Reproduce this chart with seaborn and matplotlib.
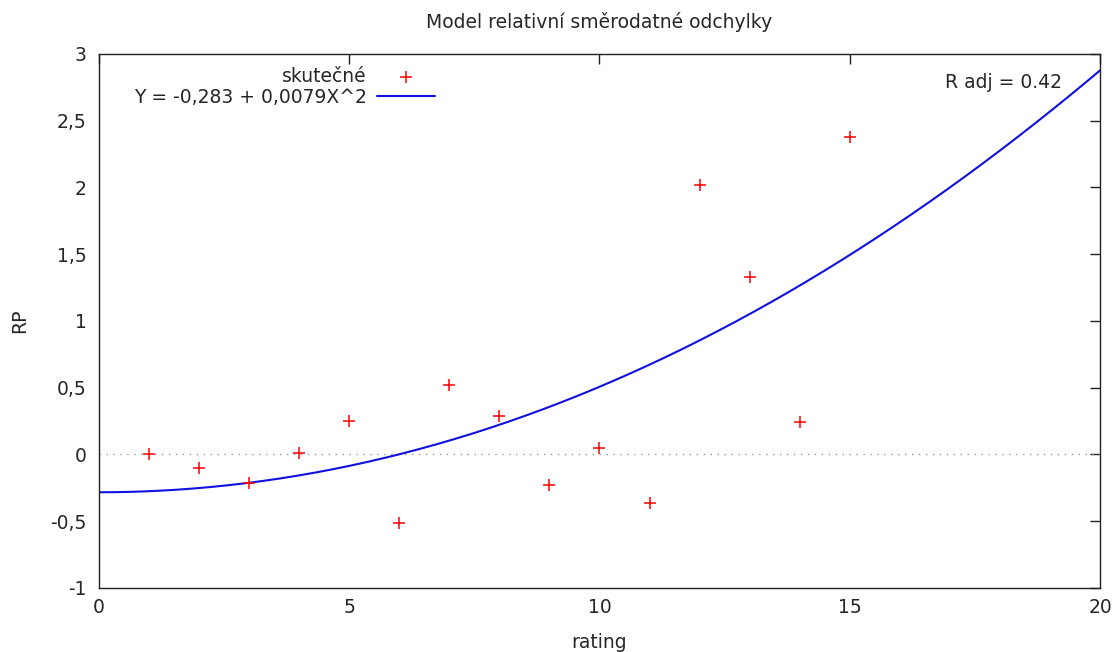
import numpy as np
import pandas as pd
import matplotlib
matplotlib.use("Agg")
import matplotlib.pyplot as plt
import seaborn as sns

# data
rating = [1, 2, 3, 4, 5, 6, 7, 8, 9, 10, 11, 12, 13, 14, 15]
rp = [0.0, -0.10, -0.21, 0.01, 0.25, -0.51, 0.52, 0.29, -0.23, 0.05, -0.36, 2.02, 1.33, 0.24, 2.38]
intercept = -0.283
coef = 0.0079
x_ticks = [0, 5, 10, 15, 20]
y_ticks = [-1, -0.5, 0, 0.5, 1, 1.5, 2, 2.5, 3]
y_tick_labels = ["-1", "-0,5", "0", "0,5", "1", "1,5", "2", "2,5", "3"]
title = "Model relativní směrodatné odchylky"
label_points = "skutečné"
label_fit = "Y = -0,283 + 0,0079X^2"
r_text = "R adj = 0.42"

sns.set_theme(style="white")
plt.rcParams['font.family'] = ['DejaVu Sans']
FS = 13.5
txt = '#262626'

fig = plt.figure(figsize=(11.17, 6.52), dpi=100)
ax = fig.add_axes([0.0886, 0.0982, 0.8962, 0.819])

df = pd.DataFrame({"rating": rating, "RP": rp})
xs = np.linspace(0, 20, 400)
fit = pd.DataFrame({"rating": xs, "RP": intercept + coef * xs ** 2})

ax.axhline(0, color='#999999', lw=1, ls=(0, (1, 4)), zorder=1)
sns.scatterplot(data=df, x="rating", y="RP", marker='+', color='red', s=70,
                linewidth=1.1, ax=ax, label=label_points, zorder=3)
sns.lineplot(data=fit, x="rating", y="RP", color='#1010e0', lw=1.5, ax=ax,
             label=label_fit, zorder=2)

ax.set_xlim(0, 20)
ax.set_ylim(-1, 3)
ax.set_xticks(x_ticks)
ax.set_xticklabels([str(t) for t in x_ticks])
ax.set_yticks(y_ticks)
ax.set_yticklabels(y_tick_labels)
ax.tick_params(direction='in', length=7, width=1, top=True, right=True,
               labelcolor=txt, color='#222222', labelsize=FS, pad=7)
ax.tick_params(axis='y', pad=9)
for s in ax.spines.values():
    s.set_color('#222222')
    s.set_linewidth(1)

ax.set_xlabel("rating", color=txt, fontsize=FS, labelpad=12)
ax.set_ylabel("RP", color=txt, fontsize=FS, labelpad=15)
ax.set_title(title, color=txt, fontsize=FS, pad=19)

ax.text(0.962, 0.946, r_text, transform=ax.transAxes, ha='right', va='center',
        color=txt, fontsize=FS)

leg = ax.legend(loc='upper right', bbox_to_anchor=(0.336, 0.976), frameon=False,
                markerfirst=False, borderpad=0, borderaxespad=0, handlelength=3.1,
                handletextpad=0.55, labelspacing=0.12, fontsize=FS)
for t in leg.get_texts():
    t.set_color(txt)

fig.savefig("out.png", dpi=100)
